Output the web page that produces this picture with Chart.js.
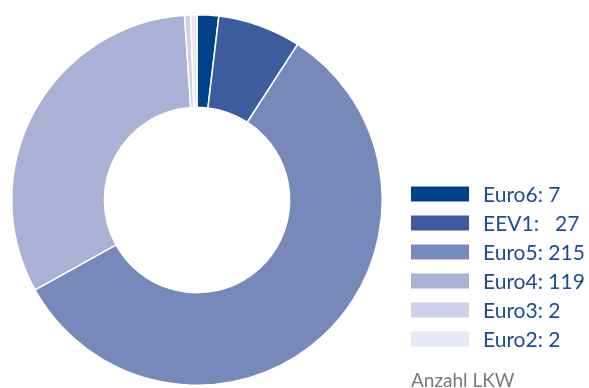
<!DOCTYPE html>
<html>
<head>
<meta charset="utf-8">
<script src="https://cdn.jsdelivr.net/npm/chart.js@4/dist/chart.umd.min.js"></script>
<style>
  html, body { margin: 0; padding: 0; background: #fff; }
  #wrap { width: 589px; height: 388px; position: relative; }
</style>
</head>
<body>
<div id="wrap"><canvas id="lkw"></canvas></div>
<script>
// Fahrzeuge nach Abgasnorm
const klassen = ['Euro6', 'EEV1', 'Euro5', 'Euro4', 'Euro3', 'Euro2'];
const anzahl = [7, 27, 215, 119, 2, 2];
const farben = ['#00418a', '#3d5c9d', '#7788bb', '#a9b2d6', '#cdd2e7', '#e5e7f3'];
const legendenText = ['Euro6: 7', 'EEV1:   27', 'Euro5: 215', 'Euro4: 119', 'Euro3: 2', 'Euro2: 2'];
const einheit = 'Anzahl LKW';

// legend drawn on the right side of the canvas
const seitenLegende = {
  id: 'seitenLegende',
  afterDraw(chart) {
    const ctx = chart.ctx;
    ctx.save();
    ctx.font = '21px Lato';
    ctx.textBaseline = 'middle';
    legendenText.forEach((txt, i) => {
      const y = 194 + i * 29;
      ctx.fillStyle = farben[i];
      ctx.fillRect(411, y - 7.5, 58, 15);
      ctx.fillStyle = '#1d4d8f';
      ctx.fillText(txt, 483, y + 1);
    });
    ctx.fillStyle = '#7a7a7a';
    ctx.font = '19px Lato';
    ctx.fillText(einheit, 411, 381);
    ctx.restore();
  }
};

new Chart(document.getElementById('lkw'), {
  type: 'doughnut',
  data: {
    labels: klassen,
    datasets: [{
      data: anzahl,
      backgroundColor: farben,
      borderColor: '#ffffff',
      borderWidth: 1.5
    }]
  },
  options: {
    responsive: true,
    maintainAspectRatio: false,
    animation: false,
    cutout: '50%',
    layout: { padding: { left: 11, top: 14, right: 206, bottom: 2 } },
    plugins: {
      legend: { display: false },
      tooltip: { enabled: false }
    }
  },
  plugins: [seitenLegende]
});
</script>
</body>
</html>
